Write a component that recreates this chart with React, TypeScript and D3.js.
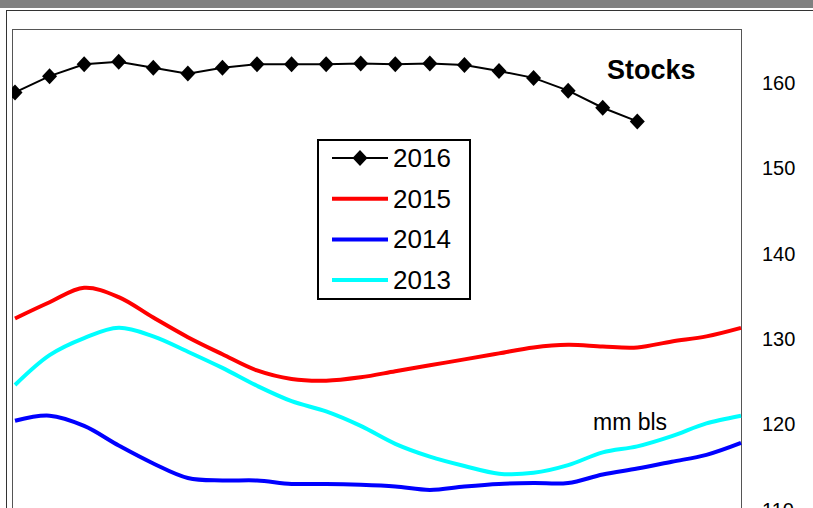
import React from "react";
import * as d3 from "d3";

const weeks = d3.range(22);
const s2016 = [158.9,160.8,162.2,162.5,161.8,161.1,161.8,162.2,162.2,162.2,162.3,162.2,162.3,162.1,161.4,160.6,159.1,157.1,155.5];
const s2015 = [132.4,134.3,136.0,134.9,132.5,130.2,128.2,126.3,125.3,125.1,125.5,126.2,126.9,127.6,128.3,129.0,129.3,129.1,129.0,129.7,130.3,131.3];
const s2014 = [120.4,121.0,119.8,117.5,115.4,113.7,113.4,113.4,113.0,113.0,112.9,112.7,112.3,112.7,113.0,113.1,113.1,114.1,114.8,115.6,116.4,117.8];
const s2013 = [124.6,128.1,130.1,131.3,130.3,128.5,126.6,124.5,122.7,121.5,119.8,117.7,116.2,115.1,114.2,114.3,115.2,116.7,117.4,118.6,120.1,121.0];
const ticks = [110,120,130,140,150,160];
const legend = [
  { name: "2016", color: "#000000", marker: true },
  { name: "2015", color: "#ff0000", marker: false },
  { name: "2014", color: "#0000ff", marker: false },
  { name: "2013", color: "#00ffff", marker: false },
];

export default function App() {
  const x = d3.scaleLinear().domain([0, weeks.length - 1]).range([15, 741]);
  const y = d3.scaleLinear().domain([110, 160]).range([509.5, 83]);
  const line = d3.line<number>().x((_, i) => x(i)).y(d => y(d)).curve(d3.curveCatmullRom.alpha(0.5));
  const font = "Arial, 'Liberation Sans', sans-serif";
  const diamond = "M0,-8L7.5,0L0,8L-7.5,0Z";
  return (
    <svg width={813} height={508} style={{ position: "fixed", left: 0, top: 0 }} fontFamily={font}>
      <rect x={0} y={0} width={813} height={508} fill="#fff" />
      <rect x={0} y={0} width={813} height={8} fill="#808080" />
      <rect x={6.5} y={10.5} width={820} height={520} fill="none" stroke="#333" strokeWidth={1} />
      <defs>
        <clipPath id="c"><rect x={12} y={29} width={730} height={490} /></clipPath>
      </defs>
      <rect x={12.5} y={29.5} width={729} height={500} fill="none" stroke="#555" strokeWidth={1} />
      <g clipPath="url(#c)">
        <path d={line(s2013)!} fill="none" stroke="#00ffff" strokeWidth={4} />
        <path d={line(s2014)!} fill="none" stroke="#0000ff" strokeWidth={4} />
        <path d={line(s2015)!} fill="none" stroke="#ff0000" strokeWidth={4} />
        <path d={d3.line<number>().x((_, i) => x(i)).y(d => y(d))(s2016)!} fill="none" stroke="#000" strokeWidth={2} />
        {s2016.map((v, i) => (
          <path key={i} d={diamond} transform={`translate(${x(i)},${y(v)})`} fill="#000" />
        ))}
      </g>
      {ticks.map(t => (
        <text key={t} x={762} y={y(t) + 7} fontSize={20} fill="#000">{t}</text>
      ))}
      <text x={607} y={79} fontSize={27} fontWeight="bold">Stocks</text>
      <text x={593} y={430} fontSize={23}>mm bls</text>
      <rect x={318} y={140} width={152} height={159} fill="#fff" stroke="#000" strokeWidth={2} />
      {legend.map((l, i) => {
        const ly = 158 + i * 40.7;
        return (
          <g key={l.name}>
            <line x1={332} x2={388} y1={ly} y2={ly} stroke={l.color} strokeWidth={l.marker ? 2 : 4} />
            {l.marker && <path d={diamond} transform={`translate(360,${ly})`} fill="#000" />}
            <text x={393} y={ly + 9} fontSize={26}>{l.name}</text>
          </g>
        );
      })}
    </svg>
  );
}
